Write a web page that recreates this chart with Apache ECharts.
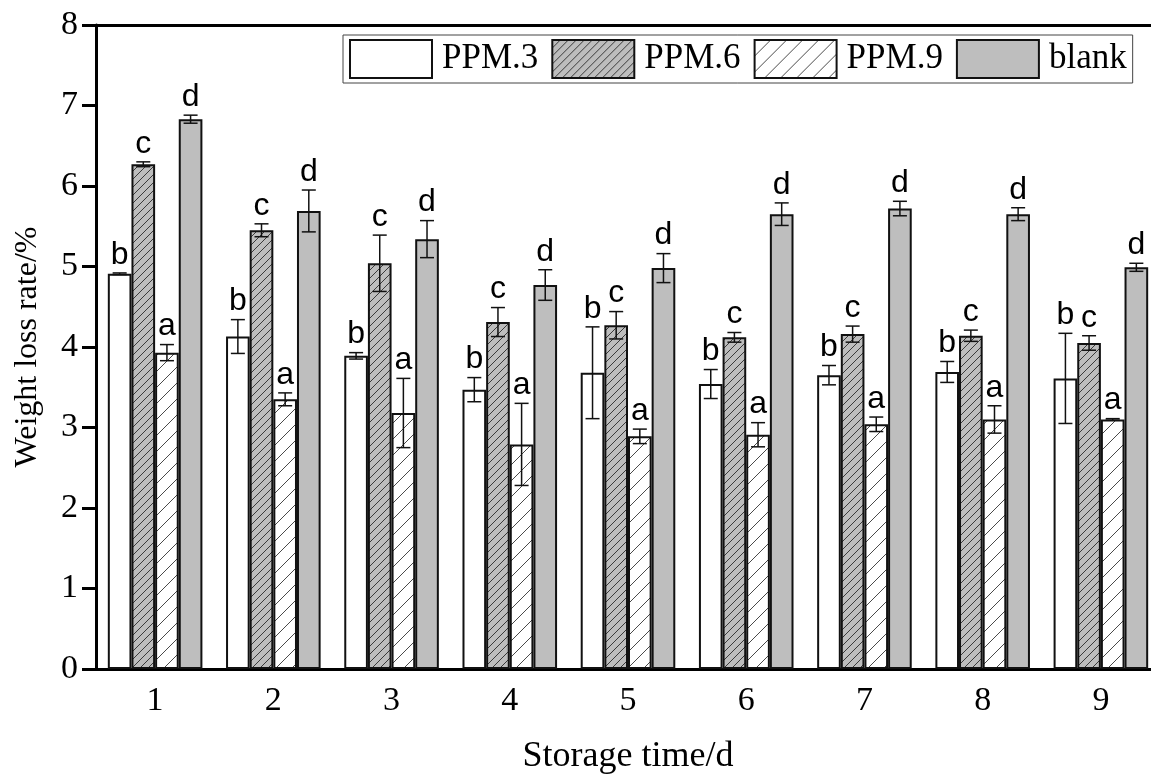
<!DOCTYPE html>
<html>
<head>
<meta charset="utf-8">
<script src="https://cdn.jsdelivr.net/npm/echarts@6/dist/echarts.min.js"></script>
<style>
  html, body { margin: 0; padding: 0; background: #ffffff; }
  #chart { width: 1151px; height: 776px; }
</style>
</head>
<body>
<div id="chart"></div>
<script>
  // 贮藏天数
  const days = ['1', '2', '3', '4', '5', '6', '7', '8', '9']
  const seriesNames = ['PPM.3', 'PPM.6', 'PPM.9', 'blank']
  // 均值
  const ppm3 = [4.91, 4.13, 3.89, 3.47, 3.68, 3.54, 3.65, 3.69, 3.61]
  const ppm6 = [6.27, 5.45, 5.04, 4.31, 4.27, 4.12, 4.16, 4.14, 4.05]
  const ppm9 = [3.93, 3.35, 3.18, 2.79, 2.89, 2.91, 3.04, 3.10, 3.10]
  const blank = [6.83, 5.69, 5.34, 4.77, 4.98, 5.65, 5.72, 5.65, 4.99]
  // 标准差
  const ppm3Err = [0.01, 0.21, 0.04, 0.15, 0.57, 0.18, 0.12, 0.13, 0.56]
  const ppm6Err = [0.03, 0.08, 0.35, 0.18, 0.17, 0.06, 0.10, 0.07, 0.09]
  const ppm9Err = [0.10, 0.08, 0.43, 0.51, 0.09, 0.15, 0.09, 0.17, 0.01]
  const blankErr = [0.05, 0.26, 0.23, 0.19, 0.18, 0.14, 0.09, 0.08, 0.05]
  // 显著性字母
  const letters = ['b', 'c', 'a', 'd']
  const yTicks = [0, 1, 2, 3, 4, 5, 6, 7, 8]

  const means = [ppm3, ppm6, ppm9, blank]
  const errs = [ppm3Err, ppm6Err, ppm9Err, blankErr]
  const SERIF = 'Liberation Serif'

  // 斜线填充
  function hatch(bg, line, step) {
    let c = document.createElement('canvas')
    c.width = step
    c.height = step
    let ctx = c.getContext('2d')
    ctx.fillStyle = bg
    ctx.fillRect(0, 0, step, step)
    ctx.strokeStyle = line
    ctx.lineWidth = 1
    for (let k = -1; k <= 1; k++) {
      ctx.beginPath()
      ctx.moveTo(k * step - 1, step + 1)
      ctx.lineTo(k * step + step + 1, -1)
      ctx.stroke()
    }
    return { image: c, repeat: 'repeat' }
  }

  const fills = [
    '#ffffff',
    hatch('#bdbdbd', '#3a3a3a', 8),
    hatch('#ffffff', '#4a4a4a', 16),
    '#bebebe'
  ]

  let series = []
  for (let s = 0; s < 4; s++) {
    series.push({
      name: seriesNames[s],
      type: 'bar',
      data: means[s],
      barGap: 0,
      barCategoryGap: '20%',
      itemStyle: { color: fills[s], borderColor: '#111', borderWidth: 2 }
    })
  }

  // 误差线与字母
  let errData = []
  for (let s = 0; s < 4; s++) {
    for (let i = 0; i < days.length; i++) {
      errData.push([i, means[s][i] - errs[s][i], means[s][i] + errs[s][i], s])
    }
  }
  series.push({
    type: 'custom',
    data: errData,
    z: 10,
    silent: true,
    renderItem: function (params, api) {
      let i = api.value(0), s = api.value(3)
      let band = api.size([1, 0])[0]
      let barW = band * 0.8 / 4
      let center = api.coord([i, 0])[0] + (s - 1.5) * barW
      let lo = api.coord([i, api.value(1)])[1]
      let hi = api.coord([i, api.value(2)])[1]
      let cap = 7
      let st = { stroke: '#111', lineWidth: 1.5 }
      let children = []
      if (lo - hi > 1.5) {
        children.push({ type: 'line', shape: { x1: center, y1: lo, x2: center, y2: hi }, style: st })
        children.push({ type: 'line', shape: { x1: center - cap, y1: lo, x2: center + cap, y2: lo }, style: st })
      }
      children.push({ type: 'line', shape: { x1: center - cap, y1: hi, x2: center + cap, y2: hi }, style: st })
      children.push({
        type: 'text',
        style: {
          text: letters[s], x: center, y: hi - 2,
          align: 'center', verticalAlign: 'bottom',
          font: '32px "Liberation Sans"', fill: '#000'
        }
      })
      return { type: 'group', children: children }
    }
  })

  let chart = echarts.init(document.getElementById('chart'))
  chart.setOption({
    animation: false,
    backgroundColor: '#ffffff',
    grid: { left: 96, top: 25, width: 1064, height: 644, outerBoundsMode: 'none' },
    legend: {
      data: seriesNames,
      left: 343,
      top: 35,
      icon: 'rect',
      itemWidth: 82,
      itemHeight: 38,
      itemGap: 13,
      padding: [4, 6, 4, 6],
      borderColor: '#444',
      borderWidth: 1,
      textStyle: { fontFamily: SERIF, fontSize: 35, color: '#000', padding: [0, 0, 0, 5] }
    },
    xAxis: [{
      type: 'category',
      data: days,
      name: 'Storage time/d',
      nameLocation: 'middle',
      nameGap: 70,
      nameTextStyle: { fontFamily: SERIF, fontSize: 36, color: '#000' },
      axisLine: { lineStyle: { color: '#000', width: 3 } },
      axisTick: { alignWithLabel: true, length: 12, lineStyle: { width: 3, color: '#000' } },
      axisLabel: { fontFamily: SERIF, fontSize: 34, color: '#000', margin: 15 }
    }, {
      type: 'category',
      data: days,
      position: 'top',
      axisLine: { lineStyle: { color: '#000', width: 3 } },
      axisTick: { show: false },
      axisLabel: { show: false }
    }],
    yAxis: {
      type: 'value',
      min: 0,
      max: 8,
      interval: 1,
      name: 'Weight loss rate/%',
      nameLocation: 'middle',
      nameGap: 52,
      nameTextStyle: { fontFamily: SERIF, fontSize: 32, color: '#000' },
      axisLine: { show: true, lineStyle: { color: '#000', width: 3 } },
      axisTick: { show: true, length: 14, lineStyle: { width: 3, color: '#000' } },
      axisLabel: { fontFamily: SERIF, fontSize: 34, color: '#000', margin: 18 },
      splitLine: { show: false }
    },
    series: series
  })
</script>
</body>
</html>
